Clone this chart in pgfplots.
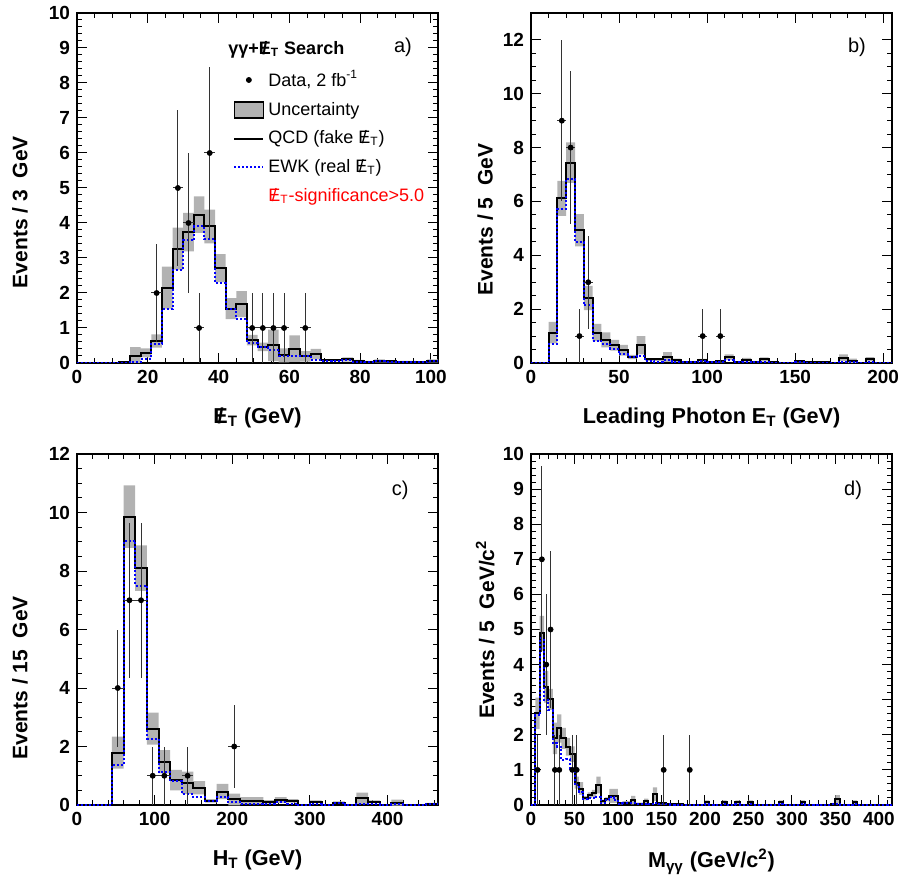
\documentclass[border=0pt]{standalone}
\usepackage{fontspec}
\setmainfont{Liberation Sans}
\usepackage{pgfplots}
\pgfplotsset{compat=1.18}
\usepackage{pgfplotstable}
\usepgfplotslibrary{fillbetween}
\newcommand{\MET}{\ooalign{E\cr\hidewidth/\hidewidth\cr}\textsubscript{T}}

\pgfplotstableread{
x q w e
0 0 0 0
3 0 0 0
6 0 0 0
9 0 0 0
12 0.02 0 0.02
15 0.19 0.02 0.26
18 0.29 0.12 0.13
21 0.63 0.55 0.19
24 2.15 1.55 0.6
27 3.27 2.67 0.6
30 3.74 3.5 0.55
33 4.24 3.9 0.52
36 3.9 3.55 0.48
39 2.71 2.29 0.4
42 1.55 1.55 0.3
45 1.68 1.27 0.37
48 0.65 0.57 0.15
51 0.46 0.46 0.12
54 0.5 0.36 0.45
57 0.22 0.19 0.2
60 0.41 0.19 0.38
63 0.19 0.19 0.15
66 0.25 0.08 0.15
69 0.08 0.06 0.03
72 0.08 0.06 0.03
75 0.1 0.08 0.06
78 0.06 0.04 0.03
81 0.04 0.03 0.02
84 0.06 0.05 0.04
87 0.05 0.04 0.03
90 0.04 0.03 0.02
93 0.04 0.03 0.02
96 0.03 0.02 0.02
99 0.06 0.05 0.04
102 0.06 0.05 0.04
}\tabA
\pgfplotstableread{
x n ex ey
22.5 2 1.5 1.414
28.5 5 1.5 2.236
31.5 4 1.5 2
34.5 1 1.5 1
37.5 6 1.5 2.449
49.5 1 1.5 1
52.5 1 1.5 1
55.5 1 1.5 1
58.5 1 1.5 1
64.5 1 1.5 1
}\datA

\pgfplotstableread{
x q w e
0 0 0 0
5 0 0 0
10 1.13 0.69 0.4
15 6.11 5.73 0.65
20 7.44 6.84 0.75
25 4.93 4.49 0.6
30 2.41 2.14 0.45
35 1.13 0.82 0.32
40 0.86 0.72 0.28
45 0.66 0.53 0.2
50 0.47 0.32 0.2
55 0.22 0.22 0.08
60 0.66 0.27 0.34
65 0.13 0.07 0.05
70 0.13 0.05 0.05
75 0.22 0.1 0.18
80 0.1 0.04 0.06
85 0.02 0.02 0.02
90 0.02 0.02 0.02
95 0.1 0.08 0.05
100 0.03 0.02 0.02
105 0.06 0.04 0.04
110 0.22 0.1 0.1
115 0.02 0.02 0.02
120 0.12 0.05 0.07
125 0.02 0.02 0.02
130 0.13 0.04 0.08
135 0.02 0.01 0.01
140 0.01 0.01 0.01
145 0.01 0.01 0.01
150 0.06 0.03 0.04
155 0.02 0.01 0.01
160 0.02 0.01 0.01
165 0.02 0.01 0.01
170 0.01 0.01 0.01
175 0.2 0.05 0.12
180 0.08 0.03 0.08
185 0.01 0.01 0.01
190 0.14 0.03 0.08
195 0.01 0.01 0.01
200 0.01 0.01 0.01
205 0.01 0.01 0.01
}\tabB
\pgfplotstableread{
x n ex ey
17.5 9 2.5 3
22.5 8 2.5 2.828
27.5 1 2.5 1
32.5 3 2.5 1.732
97.5 1 2.5 1
107.5 1 2.5 1
}\datB

\pgfplotstableread{
x q w e
0 0 0 0
15 0 0 0
30 0 0 0
45 1.79 1.37 0.55
60 9.86 9.04 1.07
75 8.1 7.5 0.78
90 2.61 2.27 0.55
105 1.48 1.12 0.4
120 0.85 0.82 0.35
135 0.76 0.38 0.38
150 0.59 0.28 0.23
165 0.14 0.14 0.06
180 0.46 0.28 0.26
195 0.19 0.11 0.2
210 0.15 0.05 0.12
225 0.15 0.05 0.12
240 0.11 0.05 0.06
255 0.17 0.1 0.1
270 0.14 0.05 0.06
285 0.01 0.01 0.01
300 0.11 0.04 0.05
315 0.01 0.01 0.01
330 0.08 0.08 0.04
345 0.01 0.01 0.01
360 0.23 0.03 0.19
375 0.11 0.03 0.05
390 0.01 0.01 0.01
405 0.08 0.02 0.1
420 0.01 0.01 0.01
435 0.01 0.01 0.01
450 0.05 0.05 0.02
465 0.05 0.05 0.02
}\tabC
\pgfplotstableread{
x n ex ey
52.5 4 7.5 2
67.5 7 7.5 2.646
82.5 7 7.5 2.646
97.5 1 7.5 1
112.5 1 7.5 1
142.5 1 7.5 1
202.5 2 7.5 1.414
}\datC

\pgfplotstableread{
x q w e
0 0 0 0
5 2.61 2.55 0.45
10 4.89 4.75 0.5
15 3.37 3.0 0.45
20 3.01 2.7 0.3
25 1.9 1.76 0.45
30 2.18 1.66 0.4
35 1.9 1.28 0.3
40 1.66 1.3 0.25
45 1.45 1.04 0.22
50 0.64 0.57 0.17
55 0.47 0.38 0.18
60 0.19 0.16 0.06
65 0.28 0.19 0.08
70 0.33 0.19 0.1
75 0.57 0.24 0.24
80 0.1 0.05 0.05
85 0.16 0.14 0.06
90 0.26 0.24 0.2
95 0.26 0.14 0.2
100 0.05 0.03 0.03
105 0.07 0.05 0.04
110 0.07 0.05 0.04
115 0.14 0.05 0.12
120 0.04 0.03 0.03
125 0.04 0.03 0.03
130 0.12 0.04 0.06
135 0.03 0.02 0.02
140 0.31 0.05 0.19
145 0.05 0.03 0.03
150 0.05 0.04 0.03
155 0.03 0.02 0.02
160 0.02 0.01 0.01
165 0.02 0.01 0.01
170 0.02 0.01 0.01
175 0.01 0.01 0.01
180 0.01 0.01 0.01
185 0.01 0.01 0.01
190 0.01 0.01 0.01
195 0.01 0.01 0.01
200 0.08 0.02 0.05
205 0.01 0.01 0.01
210 0.01 0.01 0.01
215 0.01 0.01 0.01
220 0.08 0.02 0.05
225 0.01 0.01 0.01
230 0.01 0.01 0.01
235 0.08 0.02 0.05
240 0.01 0.01 0.01
245 0.01 0.01 0.01
250 0.08 0.02 0.05
255 0.01 0.01 0.01
260 0.01 0.01 0.01
265 0.01 0.01 0.01
270 0.01 0.01 0.01
275 0.01 0.01 0.01
280 0.01 0.01 0.01
285 0.08 0.02 0.05
290 0.01 0.01 0.01
295 0.01 0.01 0.01
300 0.01 0.01 0.01
305 0.01 0.01 0.01
310 0.08 0.02 0.05
315 0.01 0.01 0.01
320 0.01 0.01 0.01
325 0.01 0.01 0.01
330 0.01 0.01 0.01
335 0.01 0.01 0.01
340 0.01 0.01 0.01
345 0.02 0.02 0.01
350 0.16 0.03 0.12
355 0.01 0.01 0.01
360 0.01 0.01 0.01
365 0.01 0.01 0.01
370 0.08 0.02 0.05
375 0.01 0.01 0.01
380 0.01 0.01 0.01
385 0.01 0.01 0.01
390 0.01 0.01 0.01
395 0.01 0.01 0.01
400 0.01 0.01 0.01
405 0.01 0.01 0.01
410 0.01 0.01 0.01
415 0.01 0.01 0.01
}\tabD
\pgfplotstableread{
x n ex ey
7.5 1 2.5 1
12.5 7 2.5 2.646
17.5 4 2.5 2
22.5 5 2.5 2.236
27.5 1 2.5 1
32.5 1 2.5 1
47.5 1 2.5 1
52.5 1 2.5 1
152.5 1 2.5 1
182.5 1 2.5 1
}\datD

\pgfplotsset{
  histo/.style={
    scale only axis, width=180.5pt, height=175pt,
    anchor=south west,
    tick align=inside, xtick pos=both, ytick pos=both,
    major tick length=5pt, minor tick length=2.5pt,
    every tick/.style={black, line width=0.5pt},
    axis line style={line width=0.75pt},
    tick label style={font=\fontsize{9.5}{10}\selectfont\bfseries},
    /pgf/number format/assume math mode=true,
    label style={font=\fontsize{10.5}{12}\selectfont\bfseries, inner sep=0pt},
    xlabel style={at={(axis description cs:0.5,0)}, anchor=north, yshift=-22pt,
      font=\fontsize{10.8}{12}\selectfont\bfseries},
    ymin=0, xmin=0, scaled ticks=false,
  },
  lineleg/.style={legend image code/.code={\draw[##1] (0pt,0pt) -- (14.5pt,0pt);}},
  boxleg/.style={legend image code/.code={\draw[##1] (0pt,-4pt) rectangle (14.5pt,4pt);}},
  markleg/.style={legend image code/.code={\draw[mark repeat=2,mark phase=2,##1] plot coordinates {(0pt,0pt) (7.25pt,0pt) (14.5pt,0pt)};}},
}

\newcommand{\histplots}[2]{%
  \addplot[const plot, draw=none, name path=U, forget plot] table[x=x, y expr=\thisrow{q}+\thisrow{e}] {#1};
  \addplot[const plot, draw=none, name path=L, forget plot] table[x=x, y expr=\thisrow{q}-\thisrow{e}] {#1};
  \addplot[fill=gray!60, draw=none, forget plot] fill between[of=U and L];
  \addplot[const plot, black, line width=1pt, forget plot] table[x=x, y=q] {#1};
  \addplot[const plot, blue, line width=1pt, dash pattern=on 1pt off 1pt, forget plot] table[x=x, y=w] {#1};
  \addplot[only marks, mark=*, mark size=1.25pt, black, forget plot,
    error bars/.cd, x dir=both, x explicit, y dir=both, y explicit, error mark=none,
    error bar style={line width=0.5pt, black!80}]
    table[x=x, y=n, x error=ex, y error=ey] {#2};
}

\begin{document}
\begin{tikzpicture}

% ---- a)
\begin{axis}[histo, at={(38.5pt,257.5pt)},
  xmax=102, xtick={0,20,...,120}, minor x tick num=3,
  ymax=10, ytick={0,1,...,10}, minor y tick num=4,
  xlabel={\MET\ (GeV)},
  ylabel={Events / 3\ \ GeV},
  ylabel style={at={(axis description cs:-0.158,0.431)}, anchor=center},
  legend style={at={(axis description cs:0.432,0.93)}, anchor=north west,
    draw=none, fill=none, inner sep=0pt, row sep=2.3pt,
    font=\fontsize{9}{10}\selectfont},
  legend cell align=left]
\histplots{\tabA}{\datA}
\addlegendimage{empty legend}\addlegendentry{\hspace*{-20pt}\textbf{γγ+\MET\ Search}}
\addlegendimage{markleg, only marks, mark=*, mark size=1.25pt, black}\addlegendentry{Data, 2 fb\textsuperscript{-1}}
\addlegendimage{boxleg, fill=gray!60, draw=black, line width=0.6pt}\addlegendentry{Uncertainty}
\addlegendimage{lineleg, black, line width=1pt}\addlegendentry{QCD (fake \MET)}
\addlegendimage{lineleg, blue, line width=1pt, dash pattern=on 1pt off 1pt}\addlegendentry{EWK (real \MET)}
\addlegendimage{empty legend}\addlegendentry{\textcolor{red}{\MET-significance>5.0}}
\node[font=\fontsize{10}{12}\selectfont] at (axis description cs:0.903,0.903) {a)};
\end{axis}

% ---- b)
\begin{axis}[histo, at={(265.5pt,257.5pt)},
  xmax=205, xtick={0,50,...,250}, minor x tick num=4,
  ymax=13, ytick={0,2,...,12}, minor y tick num=3,
  xlabel={Leading Photon E\textsubscript{T} (GeV)},
  ylabel={Events / 5\ \ GeV},
  ylabel style={at={(axis description cs:-0.127,0.41)}, anchor=center}]
\histplots{\tabB}{\datB}
\node[font=\fontsize{10}{12}\selectfont] at (axis description cs:0.903,0.903) {b)};
\end{axis}

% ---- c)
\begin{axis}[histo, at={(38.5pt,36.5pt)}, height=175.5pt,
  xmax=465, xtick={0,100,...,500}, minor x tick num=4,
  ymax=12, ytick={0,2,...,12}, minor y tick num=3,
  xlabel={H\textsubscript{T} (GeV)},
  ylabel={Events / 15\ \ GeV},
  ylabel style={at={(axis description cs:-0.158,0.362)}, anchor=center}]
\histplots{\tabC}{\datC}
\node[font=\fontsize{10}{12}\selectfont] at (axis description cs:0.895,0.897) {c)};
\end{axis}

% ---- d)
\begin{axis}[histo, at={(265.5pt,36.5pt)}, height=175.5pt,
  xmax=415, xtick={0,50,...,450}, minor x tick num=4,
  ymax=10, ytick={0,1,...,10}, minor y tick num=4,
  xlabel={M\textsubscript{γγ} (GeV/c\textsuperscript{2})},
  ylabel={Events / 5\ \ GeV/c\textsuperscript{2}},
  ylabel style={at={(axis description cs:-0.127,0.5)}, anchor=center}]
\histplots{\tabD}{\datD}
\node[font=\fontsize{10}{12}\selectfont] at (axis description cs:0.892,0.897) {d)};
\end{axis}
\pgfresetboundingbox
\useasboundingbox (0,0) rectangle (451.5pt,439pt);
\end{tikzpicture}
\end{document}
